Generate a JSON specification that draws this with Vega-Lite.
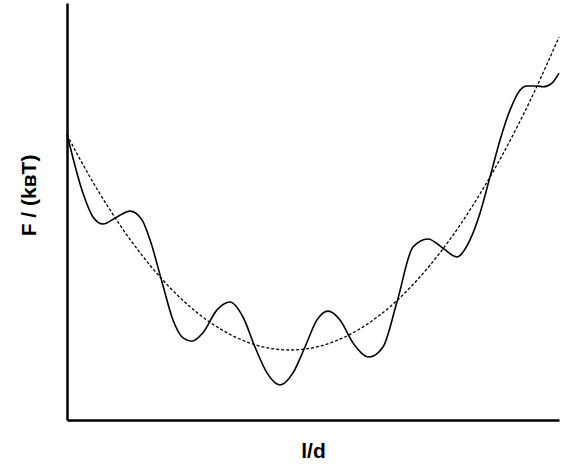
{
  "$schema": "https://vega.github.io/schema/vega-lite/v6.json",
  "autosize": "none",
  "width": 492,
  "height": 417,
  "padding": {"left": 67, "top": 3, "right": 5, "bottom": 50},
  "background": "white",
  "config": {
    "view": {"stroke": null},
    "font": "Liberation Sans",
    "axis": {
      "domainColor": "black",
      "domainWidth": 2.5,
      "ticks": false,
      "labels": false,
      "grid": false,
      "titleFont": "Liberation Sans",
      "titleFontSize": 21,
      "titleFontWeight": "bold",
      "titleColor": "black"
    }
  },
  "datasets": {
    "wavy": [
      {"l": 0, "F": 68.6}, {"l": 3.25, "F": 54.4}, {"l": 5.28, "F": 48.7}, {"l": 7.32, "F": 47.0},
      {"l": 10.16, "F": 48.7}, {"l": 12.8, "F": 50.1}, {"l": 15.24, "F": 48.0}, {"l": 16.87, "F": 43.2},
      {"l": 19.31, "F": 33.1}, {"l": 21.54, "F": 24.0}, {"l": 23.58, "F": 19.7}, {"l": 25.41, "F": 18.9},
      {"l": 27.64, "F": 20.9}, {"l": 30.49, "F": 26.4}, {"l": 33.13, "F": 28.3}, {"l": 35.77, "F": 24.7},
      {"l": 38.21, "F": 17.5}, {"l": 40.65, "F": 11.3}, {"l": 43.29, "F": 8.4}, {"l": 45.93, "F": 11.3},
      {"l": 48.37, "F": 17.5}, {"l": 50.81, "F": 24.0}, {"l": 53.05, "F": 26.1}, {"l": 55.49, "F": 24.0},
      {"l": 58.13, "F": 18.5}, {"l": 61.38, "F": 15.1}, {"l": 64.23, "F": 17.5}, {"l": 67.07, "F": 28.3},
      {"l": 70.33, "F": 41.5}, {"l": 73.37, "F": 43.4}, {"l": 76.42, "F": 41.2}, {"l": 79.27, "F": 39.1},
      {"l": 81.91, "F": 43.2}, {"l": 83.94, "F": 49.6}, {"l": 85.98, "F": 58.3}, {"l": 88.01, "F": 67.1},
      {"l": 90.04, "F": 74.3}, {"l": 92.07, "F": 79.1}, {"l": 93.5, "F": 80.1}, {"l": 95.53, "F": 80.1},
      {"l": 96.75, "F": 79.9}, {"l": 98.58, "F": 80.8}, {"l": 100, "F": 83.2}
    ],
    "parabola": [
      {"l": 0, "F": 68.37}, {"l": 4.67, "F": 58.27}, {"l": 8.74, "F": 50.38}, {"l": 12.8, "F": 43.33},
      {"l": 16.87, "F": 37.12}, {"l": 20.93, "F": 31.73}, {"l": 25.0, "F": 27.16}, {"l": 29.07, "F": 23.43},
      {"l": 33.13, "F": 20.53}, {"l": 37.2, "F": 18.44}, {"l": 41.26, "F": 17.19}, {"l": 45.33, "F": 16.79},
      {"l": 49.39, "F": 17.19}, {"l": 53.46, "F": 18.44}, {"l": 57.52, "F": 20.53}, {"l": 61.59, "F": 23.43},
      {"l": 65.65, "F": 27.16}, {"l": 69.72, "F": 31.73}, {"l": 73.78, "F": 37.12}, {"l": 77.85, "F": 43.33},
      {"l": 81.91, "F": 50.38}, {"l": 85.98, "F": 58.27}, {"l": 90.04, "F": 66.98}, {"l": 94.11, "F": 76.52},
      {"l": 100, "F": 91.85}
    ]
  },
  "encoding": {
    "x": {
      "field": "l", "type": "quantitative",
      "scale": {"domain": [0, 100], "nice": false, "zero": false},
      "axis": {"title": "l/d", "titlePadding": 20}
    },
    "y": {
      "field": "F", "type": "quantitative",
      "scale": {"domain": [0, 100], "nice": false, "zero": false},
      "axis": {"title": "F / (kʙT)", "titleX": -32, "titleY": 192, "titleAlign": "center", "titleBaseline": "alphabetic", "titleAngle": 270}
    }
  },
  "layer": [
    {
      "data": {"name": "parabola"},
      "mark": {"type": "line", "interpolate": "monotone", "color": "black", "strokeWidth": 1.3, "strokeDash": [3, 2]}
    },
    {
      "data": {"name": "wavy"},
      "mark": {"type": "line", "interpolate": "monotone", "color": "black", "strokeWidth": 1.6}
    }
  ]
}
